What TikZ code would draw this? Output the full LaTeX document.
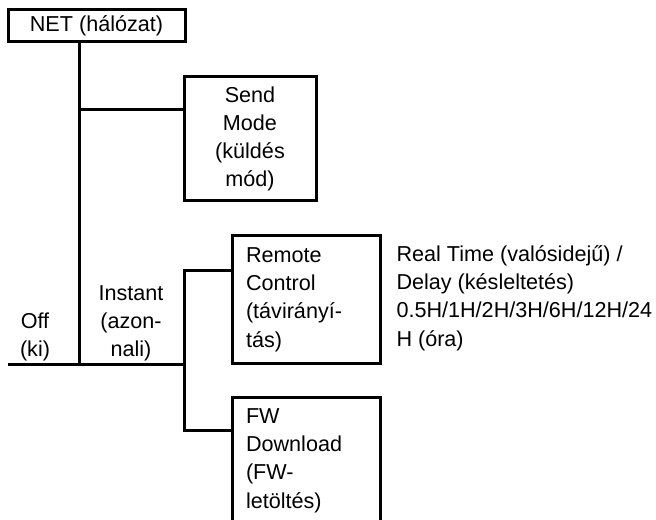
\documentclass[tikz,border=0pt]{standalone}
\usepackage{fontspec}
\setmainfont{Liberation Sans}
\newcommand{\menufont}{\fontsize{16.2pt}{21.2pt}\selectfont}
\tikzset{every picture/.style={line width=2.25pt}}
\tikzset{
  box/.style={draw, inner ysep=0pt, align=center, font=\menufont},
  leaf/.style={box, align=left, text width=120*0.75pt, inner xsep=14*0.75pt,
    minimum width=148*0.75pt, minimum height=127*0.75pt},
  lbl/.style={align=center, inner sep=1pt, font=\menufont}
}

\begin{document}
\begin{tikzpicture}[x=0.75pt,y=0.75pt,yscale=-1,xscale=1]
\path[use as bounding box] (0,0) rectangle (656,520);
\clip (0,0) rectangle (656,520);

%Shape: Rectangle [id:net]
\node[box, minimum width=177*0.75pt, minimum height=32*0.75pt] (net) at (96.5,26) {NET (hálózat)};
%Shape: Rectangle [id:send]
\node[box, text width=110*0.75pt, minimum width=132*0.75pt, minimum height=124*0.75pt] (send) at (250,139) {Send\\Mode\\(küldés\\mód)};
%Shape: Rectangle [id:remote]
\node[leaf] (remote) at (306,299.5) {Remote\\Control\\(távirányí-\\tás)};
%Shape: Rectangle [id:fw]
\node[leaf] (fw) at (306,460.5) {FW\\Download\\(FW-\\letöltés)};

% Text Node
\node[lbl, anchor=south] (off) at (35,364) {Off\\(ki)};
% Text Node
\node[lbl, anchor=south] (instant) at (131,364) {Instant\\(azon-\\nali)};
% Text Node
\node[lbl, align=left, anchor=north west, inner sep=0pt] (times) at (395,244) {Real Time (valósidejű) /\\Delay (késleltetés)\\0.5H/1H/2H/3H/6H/12H/24\\H (óra)};

%Lines
\coordinate (left) at (8,364);
\coordinate (trunk) at (79,364);
\coordinate (split) at (184,364);
\coordinate (sendtap) at (79,110);
\coordinate (rtap) at (184,270);
\coordinate (ftap) at (184,430);
\draw (trunk |- net.south) -- (trunk);
\draw (sendtap) -- (sendtap -| send.west);
\draw (left) -- (split);
\draw (rtap -| remote.west) -- (rtap) -- (ftap) -- (ftap -| fw.west);

\end{tikzpicture}
\end{document}
